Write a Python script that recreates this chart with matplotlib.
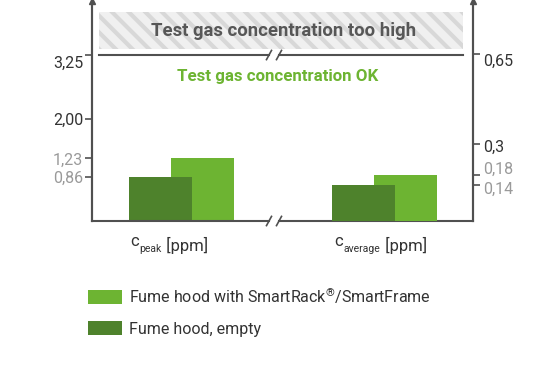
import matplotlib
matplotlib.use("Agg")
import matplotlib.pyplot as plt
import matplotlib.transforms as mtrans
from matplotlib.patches import Patch, Rectangle

plt.rcParams['font.family'] = ['Roboto', 'DejaVu Sans']
plt.rcParams['hatch.linewidth'] = 3.0
plt.rcParams['mathtext.fontset'] = 'custom'
plt.rcParams['mathtext.rm'] = 'Roboto'

# ---- data ----
categories = ["peak", "average"]
series_names = ["Fume hood with SmartRack$^{\\mathregular{®}}$/SmartFrame", "Fume hood, empty"]
peak_values = [1.23, 0.86]        # left axis (ppm): with SmartRack, empty
average_values = [0.18, 0.14]     # right axis (ppm): with SmartRack, empty
left_ticks = [3.25, 2.00, 1.23, 0.86]
left_tick_labels = ["3,25", "2,00", "1,23", "0,86"]
right_ticks = [0.65, 0.3, 0.18, 0.14]
right_tick_labels = ["0,65", "0,3", "0,18", "0,14"]
limit_left = 3.25

light = "#6db432"
dark = "#4e822c"
axis_col = "#505050"
dark_txt = "#333333"
grey_txt = "#9a9a9a"

W, H = 550, 370
fig = plt.figure(figsize=(W / 100, H / 100), dpi=100)
ax_left, ax_right, ax_top, ax_bot = 92, 473, 1, 221
AXW = ax_right - ax_left
ax = fig.add_axes([ax_left / W, 1 - ax_bot / H, AXW / W, (ax_bot - ax_top) / H])
ax2 = ax.twinx()

ax.set_xlim(-0.441, 1.436)
ax.set_ylim(0, 4.327 * 220 / 221)
ax2.set_ylim(0, 0.860 * 220 / 221)

bw = 0.31
off = 0.104
ax.bar(0 + off, peak_values[0], bw, color=light, zorder=2)
ax.bar(0 - off, peak_values[1], bw, color=dark, zorder=3)
ax2.bar(1 + off, average_values[0], bw, color=light, zorder=2)
ax2.bar(1 - off, average_values[1], bw, color=dark, zorder=3)

for a in (ax, ax2):
    a.spines['top'].set_visible(False)
    a.spines['bottom'].set_visible(False)
    for s in ('left', 'right'):
        a.spines[s].set_color(axis_col)
        a.spines[s].set_linewidth(1.5)
    a.set_xticks([])
    a.patch.set_visible(False)

# ticks without default labels; labels placed as texts with small vertical offsets
ax.set_yticks(left_ticks)
ax.set_yticklabels([])
ax2.set_yticks(right_ticks)
ax2.set_yticklabels([])
for a in (ax, ax2):
    a.tick_params(axis='y', length=5, width=1.2, color=axis_col)

lab_cols = [dark_txt, dark_txt, grey_txt, grey_txt]
left_dy = [-8, -1, -2, -1]     # pixels (negative = down)
right_dy = [-7, -3, 5, -4]
bl = mtrans.blended_transform_factory(ax.transAxes, ax.transData)
br = mtrans.blended_transform_factory(ax2.transAxes, ax2.transData)
for t, l, c, d in zip(left_ticks, left_tick_labels, lab_cols, left_dy):
    ax.text(0, t, l, transform=bl + mtrans.ScaledTranslation(-9 / 100, d / 100, fig.dpi_scale_trans),
            ha='right', va='center', fontsize=11.5, color=c)
for t, l, c, d in zip(right_ticks, right_tick_labels, lab_cols, right_dy):
    ax2.text(1, t, l, transform=br + mtrans.ScaledTranslation(10 / 100, d / 100, fig.dpi_scale_trans),
             ha='left', va='center', fontsize=11.5, color=c)

# arrows on top of the spines
ax.plot([0, 1], [1.0, 1.0], ls='none', marker='^', ms=5, color=axis_col, transform=ax.transAxes,
        clip_on=False, zorder=5)

# broken baseline and broken limit line
bx0, bx1 = (269 - ax_left) / AXW, (279 - ax_left) / AXW
band_x0 = (99 - ax_left) / AXW
band_x1 = (463 - ax_left) / AXW

def broken(y, x0, x1):
    ax.plot([x0, bx0], [y, y], color=axis_col, lw=1.5, transform=bl, clip_on=False, zorder=4)
    ax.plot([bx1, x1], [y, y], color=axis_col, lw=1.5, transform=bl, clip_on=False, zorder=4)
    for xv in (bx0, bx1):
        ax.plot([xv - 2.5 / AXW, xv + 2.5 / AXW], [y - 0.09, y + 0.09], color=axis_col,
                lw=1.2, transform=bl, clip_on=False, zorder=5)

broken(0, 0, 1)
broken(limit_left, band_x0, band_x1)

# hatched band
band = Rectangle((band_x0, (221 - 49) / 220), band_x1 - band_x0, (49 - 12) / 220,
                 transform=ax.transAxes, facecolor="#f0f0f0", edgecolor="#d8d8d8",
                 hatch='\\\\', lw=0, zorder=1)
ax.add_patch(band)

ax.text(0.5 + 1 / AXW, (221 - 31) / 220, "Test gas concentration too high", transform=ax.transAxes,
        ha='center', va='center', fontsize=13.3, fontweight='bold', color="#575757", zorder=6)
ax.text(0.5 - 5 / AXW, (221 - 76) / 220, "Test gas concentration OK", transform=ax.transAxes,
        ha='center', va='center', fontsize=12.2, fontweight='bold', color=light, zorder=6)

# category labels: "c" + small subscript + " [ppm]"
def cat_label(x_px, sub):
    t0 = fig.text(x_px / W, 1 - 246 / H, "c", ha='left', va='baseline', fontsize=12, color=dark_txt)
    t1 = ax.annotate(sub, xy=(1, 0), xycoords=t0, xytext=(0.5, -2.5), textcoords='offset points',
                     ha='left', va='baseline', fontsize=7.5, color=dark_txt)
    ax.annotate(" [ppm]", xy=(1, 0), xycoords=t1, xytext=(0.5, 2.5), textcoords='offset points',
                ha='left', va='baseline', fontsize=12, color=dark_txt)

cat_label(130, "peak")
cat_label(334, "average")

# legend
handles = [Patch(facecolor=light, edgecolor='none'), Patch(facecolor=dark, edgecolor='none')]
fig.legend(handles, series_names, loc='upper left', bbox_to_anchor=(74 / W, 1 - 271 / H),
           frameon=False, fontsize=11.5, handlelength=2.1, handleheight=1.0,
           handletextpad=0.45, labelspacing=0.95, labelcolor=dark_txt)

fig.savefig("out.png", dpi=100)
